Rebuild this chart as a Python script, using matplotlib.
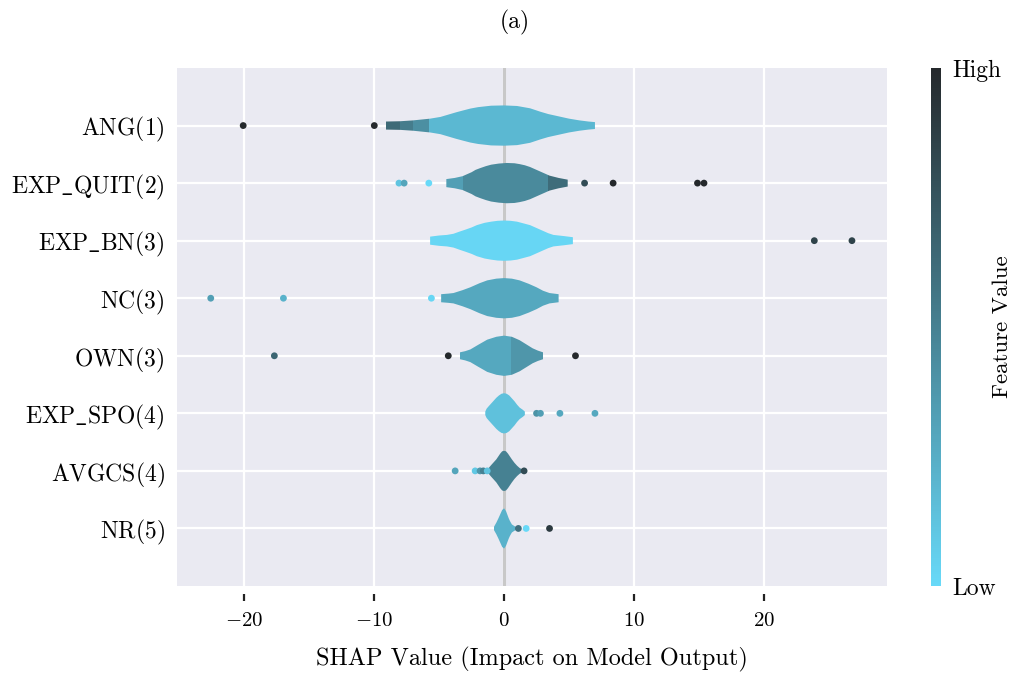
import numpy as np
import matplotlib
matplotlib.use("Agg")
import matplotlib.pyplot as plt
from matplotlib.colors import LinearSegmentedColormap

plt.rcParams['font.family'] = 'serif'
plt.rcParams['font.serif'] = ['cmr10', 'DejaVu Serif']
plt.rcParams['mathtext.fontset'] = 'cm'
plt.rcParams['axes.formatter.use_mathtext'] = True

# feature labels, top to bottom
features = [r'$\mathrm{ANG(1)}$', r'$\mathrm{EXP\_QUIT(2)}$', r'$\mathrm{EXP\_BN(3)}$',
            r'$\mathrm{NC(3)}$', r'$\mathrm{OWN(3)}$', r'$\mathrm{EXP\_SPO(4)}$',
            r'$\mathrm{AVGCS(4)}$', r'$\mathrm{NR(5)}$']

# violin outlines: SHAP value -> half width (row units)
ang_x = [-9.1, -8.0, -7.0, -5.7, -4.9, -4.3, -3.7, -3.2, -2.6, -2.0, -1.0, 0.0,
         1.0, 2.0, 2.8, 3.4, 4.0, 5.0, 5.8, 6.5, 7.0]
ang_w = [0.07, 0.075, 0.09, 0.12, 0.15, 0.19, 0.23, 0.26, 0.295, 0.32, 0.345, 0.35,
         0.34, 0.30, 0.24, 0.20, 0.17, 0.12, 0.09, 0.07, 0.06]
quit_x = [-4.45, -3.8, -3.2, -2.8, -2.5, -2.2, -1.85, -1.4, -1.0, -0.4, 0.2, 0.8,
          1.2, 1.6, 2.0, 2.4, 2.8, 3.2, 3.5, 4.2, 4.9]
quit_w = [0.07, 0.09, 0.12, 0.16, 0.19, 0.23, 0.26, 0.295, 0.32, 0.34, 0.35, 0.345,
          0.33, 0.31, 0.28, 0.24, 0.20, 0.16, 0.13, 0.09, 0.06]
bn_x = [-5.7, -5.0, -4.4, -3.9, -3.4, -3.0, -2.5, -2.1, -1.5, -1.0, -0.5, 0.0,
        0.5, 1.0, 1.5, 2.0, 2.5, 3.0, 3.4, 3.8, 4.6, 5.3]
bn_w = [0.07, 0.09, 0.10, 0.12, 0.16, 0.19, 0.23, 0.27, 0.31, 0.33, 0.345, 0.35,
        0.345, 0.33, 0.30, 0.27, 0.22, 0.17, 0.13, 0.10, 0.08, 0.06]
nc_x = [-4.85, -4.3, -3.9, -3.2, -2.6, -1.9, -1.3, -0.6, 0.0, 0.6, 1.2, 1.9,
        2.5, 3.0, 3.5, 4.2]
nc_w = [0.07, 0.08, 0.09, 0.14, 0.19, 0.26, 0.31, 0.34, 0.35, 0.34, 0.31, 0.25,
        0.19, 0.13, 0.09, 0.07]
own_x = [-3.4, -3.0, -2.6, -2.0, -1.3, -0.6, 0.0, 0.6, 1.2, 1.7, 2.2, 2.6, 3.0]
own_w = [0.06, 0.08, 0.11, 0.19, 0.28, 0.33, 0.35, 0.33, 0.27, 0.20, 0.13, 0.09, 0.06]
spo_x = [-1.45, -1.35, -1.2, -1.0, -0.8, -0.6, -0.4, -0.2, 0.0, 0.2, 0.4, 0.6,
         0.8, 1.0, 1.2, 1.45, 1.6]
spo_w = [0.03, 0.08, 0.12, 0.17, 0.22, 0.27, 0.31, 0.34, 0.35, 0.34, 0.31, 0.26,
         0.21, 0.15, 0.10, 0.06, 0.03]
avg_x = [-1.25, -1.15, -1.0, -0.8, -0.6, -0.45, -0.3, -0.15, 0.0, 0.15, 0.3, 0.45,
         0.6, 0.8, 1.0, 1.2, 1.45]
avg_w = [0.03, 0.06, 0.10, 0.15, 0.20, 0.25, 0.30, 0.34, 0.35, 0.34, 0.30, 0.25,
         0.20, 0.14, 0.09, 0.05, 0.02]
nr_x = [-0.8, -0.7, -0.6, -0.45, -0.35, -0.25, -0.15, 0.0, 0.15, 0.25, 0.35, 0.45,
        0.6, 0.8, 1.0]
nr_w = [0.02, 0.06, 0.10, 0.17, 0.22, 0.27, 0.32, 0.35, 0.30, 0.24, 0.18, 0.13,
        0.07, 0.04, 0.02]

# colour segments along each violin: edges and feature value (0 low .. 1 high)
ang_seg = [-9.1, -8.0, -7.0, -5.8, 7.0]
ang_val = [0.63, 0.53, 0.42, 0.19]
quit_seg = [-4.45, -3.2, 3.4, 4.9]
quit_val = [0.33, 0.45, 0.62]
bn_seg = [-5.7, 5.3]
bn_val = [0.02]
nc_seg = [-4.85, 4.2]
nc_val = [0.28]
own_seg = [-3.4, 0.55, 3.0]
own_val = [0.28, 0.38]
spo_seg = [-1.45, 1.6]
spo_val = [0.14]
avg_seg = [-1.25, 1.45]
avg_val = [0.5]
nr_seg = [-0.8, 1.0]
nr_val = [0.22]

# outlier points: SHAP value and feature value
ang_pts = [-20.1, -10.0]
ang_fv = [1.0, 1.0]
quit_pts = [-8.1, -7.7, -5.8, 6.2, 8.4, 14.9, 15.4]
quit_fv = [0.12, 0.3, 0.0, 0.8, 1.0, 1.0, 1.0]
bn_pts = [23.9, 26.8]
bn_fv = [0.85, 0.85]
nc_pts = [-22.6, -17.0, -5.6]
nc_fv = [0.33, 0.22, 0.02]
own_pts = [-17.7, -4.3, 5.5]
own_fv = [0.65, 1.0, 1.0]
spo_pts = [2.5, 2.8, 4.3, 7.0]
spo_fv = [0.4, 0.33, 0.28, 0.28]
avg_pts = [-3.77, -2.23, -1.85, -1.6, -1.3, 1.54]
avg_fv = [0.3, 0.1, 0.38, 0.5, 0.12, 0.8]
nr_pts = [1.1, 1.7, 3.5]
nr_fv = [0.6, 0.0, 0.9]

shapes = [(ang_x, ang_w), (quit_x, quit_w), (bn_x, bn_w), (nc_x, nc_w),
          (own_x, own_w), (spo_x, spo_w), (avg_x, avg_w), (nr_x, nr_w)]
segs = [(ang_seg, ang_val), (quit_seg, quit_val), (bn_seg, bn_val), (nc_seg, nc_val),
        (own_seg, own_val), (spo_seg, spo_val), (avg_seg, avg_val), (nr_seg, nr_val)]
points = [(ang_pts, ang_fv), (quit_pts, quit_fv), (bn_pts, bn_fv), (nc_pts, nc_fv),
          (own_pts, own_fv), (spo_pts, spo_fv), (avg_pts, avg_fv), (nr_pts, nr_fv)]

cmap = LinearSegmentedColormap.from_list('shap_blue', ['#68d9f8', '#25292c'])

fig = plt.figure(figsize=(10.15, 6.75), dpi=100)
ax = fig.add_axes([177/1015, 89/675, 710/1015, 518/675])
ax.set_facecolor('#eaeaf2')
for s in ax.spines.values():
    s.set_visible(False)

n = len(features)
rows = np.arange(n)[::-1]

ax.axvline(0, color='#c8c8c8', lw=2.2, zorder=1.5)

for i in range(n):
    y = rows[i]
    xs, ws = np.array(shapes[i][0]), np.array(shapes[i][1])
    body = ax.fill_between(xs, y - ws, y + ws, color='none', lw=0, zorder=3)
    clip = body.get_paths()[0]
    edges, vals = segs[i]
    for k in range(len(vals)):
        r = ax.axvspan(edges[k], edges[k + 1], ymin=0, ymax=1, color=cmap(vals[k]),
                       lw=0, zorder=3)
        r.set_clip_path(clip, ax.transData)
    px, fv = points[i]
    ax.scatter(px, [y] * len(px), c=fv, cmap=cmap, vmin=0, vmax=1, s=24,
               lw=0, zorder=4)

ax.set_yticks(rows)
ax.set_yticklabels(features, fontsize=17)
ax.set_ylim(-1, 8)
ax.set_xlim(-25.2, 29.5)
ax.set_xticks([-20, -10, 0, 10, 20])
ax.grid(True, color='white', lw=1.6, zorder=0)
ax.set_axisbelow(True)
ax.tick_params(axis='y', length=0, pad=9)
ax.tick_params(axis='x', length=5, width=1.6, color='#222222', pad=8, labelsize=15)
ax.spines['bottom'].set_position(('outward', 6))
ax.set_xlabel('SHAP Value (Impact on Model Output)', fontsize=17.5, labelpad=12)

fig.text(515/1015, 1 - 22/675, '(a)', ha='center', va='center', fontsize=17)

cax = fig.add_axes([931/1015, 89/675, 10/1015, 518/675])
sm = plt.cm.ScalarMappable(cmap=cmap, norm=plt.Normalize(0, 1))
cb = fig.colorbar(sm, cax=cax)
cb.outline.set_visible(False)
cb.set_ticks([0, 1])
cb.set_ticklabels(['Low', 'High'])
cb.ax.tick_params(length=0, labelsize=17, pad=8)
cb.set_label('Feature Value', fontsize=16.5, labelpad=-6)

fig.savefig('out.png', dpi=100)
